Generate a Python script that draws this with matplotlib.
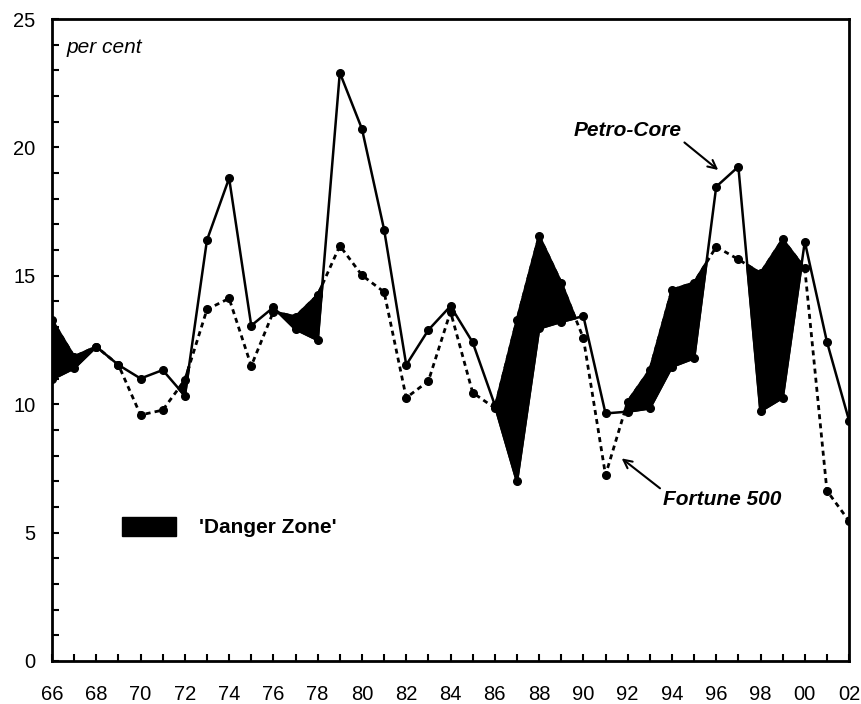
import numpy as np
import matplotlib
matplotlib.use("Agg")
import matplotlib.pyplot as plt
from matplotlib.patches import Patch
from matplotlib.ticker import MultipleLocator

plt.rcParams['font.family'] = ['Liberation Sans', 'DejaVu Sans']

# --- data (per cent), 1966-2002 ---
years = np.arange(1966, 2003)
petro_core = np.array([10.97, 11.40, 12.24, 11.53, 11.00, 11.33, 10.33, 16.39, 18.80, 13.06,
                       13.77, 12.92, 12.50, 22.91, 20.72, 16.80, 11.53, 12.89, 13.82, 12.41,
                       9.97, 7.00, 12.95, 13.21, 13.43, 9.64, 9.71, 9.84, 11.46, 11.79,
                       18.47, 19.25, 9.73, 10.25, 16.33, 12.43, 9.36])
fortune_500 = np.array([13.28, 11.85, 12.24, 11.53, 9.58, 9.77, 10.94, 13.69, 14.12, 11.49,
                        13.60, 13.41, 14.25, 16.17, 15.02, 14.37, 10.25, 10.90, 13.60, 10.45,
                        9.85, 13.28, 16.55, 14.73, 12.57, 7.24, 10.10, 11.33, 14.45, 14.73,
                        16.13, 15.64, 15.10, 16.42, 15.29, 6.63, 5.45])
xtick_years = np.arange(1966, 2003, 2)
xtick_labels = [f"{y % 100:02d}" for y in xtick_years]

# --- figure ---
fig = plt.figure(figsize=(8.62, 7.04), dpi=100)
ax = fig.add_axes([0.0603, 0.0611, 0.9247, 0.9119])

ax.plot(years, fortune_500, color='black', lw=2.0, linestyle=(0, (1.8, 1.5)),
        marker='o', markersize=5.5, zorder=2)
ax.plot(years, petro_core, color='black', lw=1.8, linestyle='-',
        marker='o', markersize=5.5, zorder=3)

# danger zone: Fortune 500 above Petro-Core (drawn on top for clean edges)
ax.fill_between(years, petro_core, fortune_500, where=fortune_500 > petro_core,
                interpolate=True, facecolor='black', edgecolor='black',
                linewidth=2.0, joinstyle='round', zorder=4)

ax.set_xlim(1966, 2002)
ax.set_ylim(0, 25)

ax.set_xticks(xtick_years)
ax.set_xticklabels(xtick_labels)
ax.xaxis.set_minor_locator(MultipleLocator(1))
ax.yaxis.set_major_locator(MultipleLocator(5))
ax.yaxis.set_minor_locator(MultipleLocator(1))
ax.tick_params(axis='both', which='both', direction='in', width=1.5, length=5,
               labelsize=14.5, top=False, right=False)
ax.tick_params(axis='x', which='major', pad=17)
ax.tick_params(axis='y', which='major', pad=12)

for sp in ax.spines.values():
    sp.set_linewidth(2.0)
    sp.set_zorder(5)

# --- annotations ---
ax.text(0.018, 0.955, 'per cent', transform=ax.transAxes, fontsize=15,
        style='italic', ha='left', va='center')

ax.annotate('Petro-Core', xy=(1996.09, 19.12), xytext=(1992.0, 20.65),
            fontsize=15, fontweight='bold', style='italic', ha='center', va='center',
            arrowprops=dict(arrowstyle='->', color='black', lw=1.5,
                            shrinkA=0, shrinkB=0, relpos=(1.0, 0.0)))

ax.annotate('Fortune 500', xy=(1991.73, 7.89), xytext=(1996.26, 6.27),
            fontsize=15, fontweight='bold', style='italic', ha='center', va='center',
            arrowprops=dict(arrowstyle='->', color='black', lw=1.5,
                            shrinkA=0, shrinkB=0, relpos=(0.0, 1.0)))

leg = ax.legend(handles=[Patch(facecolor='black', edgecolor='black')],
                labels=["'Danger Zone'"], loc='center left',
                bbox_to_anchor=(0.0753, 0.2087), frameon=False, borderpad=0,
                handlelength=2.55, handleheight=1.06, handletextpad=1.15,
                prop={'size': 15, 'weight': 'bold'})

fig.savefig('out.png', dpi=100)
